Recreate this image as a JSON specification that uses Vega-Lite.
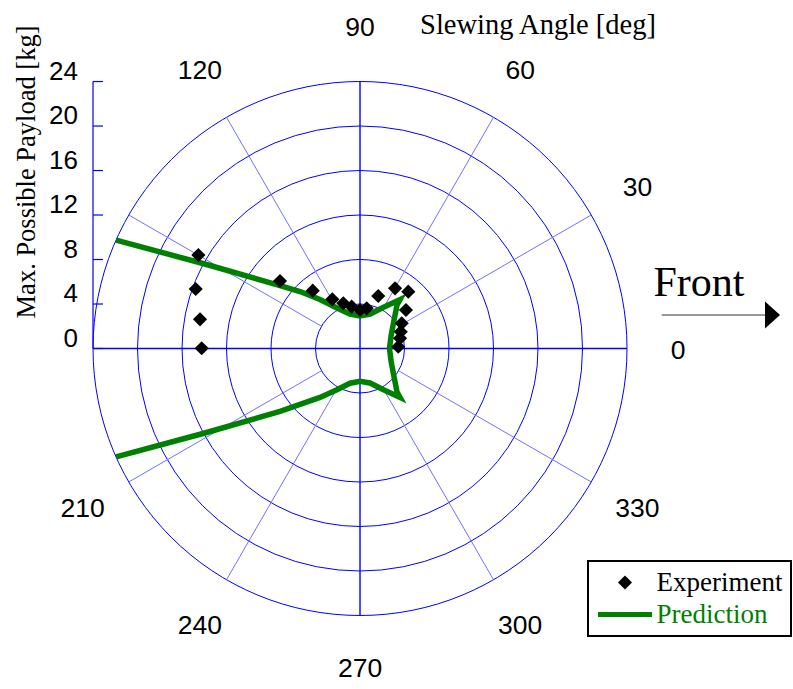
{
  "$schema": "https://vega.github.io/schema/vega-lite/v6.json",
  "width": 793,
  "height": 689,
  "autosize": {"type": "none"},
  "padding": 0,
  "background": "white",
  "config": {"view": {"stroke": null}, "legend": {"strokeWidth": 2}},
  "datasets": {
    "circles": [{"r": 4}, {"r": 8}, {"r": 12}, {"r": 16}, {"r": 20}, {"r": 24}],
    "mainAxes": [
      {"x": -24, "y": 0, "x2": 24, "y2": 0},
      {"x": 0, "y": -24, "x2": 0, "y2": 24}
    ],
    "spokes": [
      {"x": 3.464, "y": 2, "x2": 20.785, "y2": 12},
      {"x": 2, "y": 3.464, "x2": 12, "y2": 20.785},
      {"x": -2, "y": 3.464, "x2": -12, "y2": 20.785},
      {"x": -3.464, "y": 2, "x2": -20.785, "y2": 12},
      {"x": -3.464, "y": -2, "x2": -20.785, "y2": -12},
      {"x": -2, "y": -3.464, "x2": -12, "y2": -20.785},
      {"x": 2, "y": -3.464, "x2": 12, "y2": -20.785},
      {"x": 3.464, "y": -2, "x2": 20.785, "y2": -12}
    ],
    "angleLabels": [
      {"label": "0", "x": 28.6, "y": -0.2},
      {"label": "30", "x": 24.94, "y": 14.4},
      {"label": "60", "x": 14.4, "y": 24.94},
      {"label": "90", "x": 0, "y": 28.8},
      {"label": "120", "x": -14.4, "y": 24.94},
      {"label": "210", "x": -24.94, "y": -14.4},
      {"label": "240", "x": -14.4, "y": -24.94},
      {"label": "270", "x": 0, "y": -28.8},
      {"label": "300", "x": 14.4, "y": -24.94},
      {"label": "330", "x": 24.94, "y": -14.4}
    ],
    "ticks": [{"v": 0}, {"v": 4}, {"v": 8}, {"v": 12}, {"v": 16}, {"v": 20}, {"v": 24}],
    "experiment": [
      {"series": "Experiment", "x": -14.53, "y": 8.40},
      {"series": "Experiment", "x": -14.77, "y": 5.35},
      {"series": "Experiment", "x": -14.38, "y": 2.62},
      {"series": "Experiment", "x": -14.23, "y": 0.02},
      {"series": "Experiment", "x": -7.19, "y": 6.07},
      {"series": "Experiment", "x": -4.25, "y": 5.20},
      {"series": "Experiment", "x": -2.49, "y": 4.42},
      {"series": "Experiment", "x": -1.50, "y": 4.06},
      {"series": "Experiment", "x": -0.75, "y": 3.76},
      {"series": "Experiment", "x": 0.0, "y": 3.46},
      {"series": "Experiment", "x": 0.60, "y": 3.61},
      {"series": "Experiment", "x": 1.64, "y": 4.72},
      {"series": "Experiment", "x": 3.15, "y": 5.41},
      {"series": "Experiment", "x": 4.34, "y": 5.11},
      {"series": "Experiment", "x": 4.13, "y": 3.46},
      {"series": "Experiment", "x": 3.75, "y": 2.27},
      {"series": "Experiment", "x": 3.66, "y": 1.51},
      {"series": "Experiment", "x": 3.60, "y": 0.92},
      {"series": "Experiment", "x": 3.44, "y": 0.16}
    ],
    "prediction": [
      {"series": "Prediction", "i": 1, "x": -21.93, "y": 9.75},
      {"series": "Prediction", "i": 2, "x": -14.11, "y": 7.64},
      {"series": "Prediction", "i": 3, "x": -7.19, "y": 5.66},
      {"series": "Prediction", "i": 4, "x": -5.39, "y": 5.12},
      {"series": "Prediction", "i": 5, "x": -3.60, "y": 4.40},
      {"series": "Prediction", "i": 6, "x": -2.07, "y": 3.64},
      {"series": "Prediction", "i": 7, "x": -0.90, "y": 3.10},
      {"series": "Prediction", "i": 8, "x": 0.0, "y": 2.92},
      {"series": "Prediction", "i": 9, "x": 0.90, "y": 3.10},
      {"series": "Prediction", "i": 10, "x": 2.07, "y": 3.69},
      {"series": "Prediction", "i": 11, "x": 3.60, "y": 4.40},
      {"series": "Prediction", "i": 12, "x": 3.33, "y": 3.91},
      {"series": "Prediction", "i": 13, "x": 3.06, "y": 2.56},
      {"series": "Prediction", "i": 14, "x": 2.79, "y": 1.12},
      {"series": "Prediction", "i": 15, "x": 2.65, "y": 0.0},
      {"series": "Prediction", "i": 16, "x": 2.79, "y": -1.12},
      {"series": "Prediction", "i": 17, "x": 3.06, "y": -2.56},
      {"series": "Prediction", "i": 18, "x": 3.33, "y": -3.91},
      {"series": "Prediction", "i": 19, "x": 3.60, "y": -4.40},
      {"series": "Prediction", "i": 20, "x": 2.07, "y": -3.69},
      {"series": "Prediction", "i": 21, "x": 0.90, "y": -3.10},
      {"series": "Prediction", "i": 22, "x": 0.0, "y": -2.95},
      {"series": "Prediction", "i": 23, "x": -0.90, "y": -3.12},
      {"series": "Prediction", "i": 24, "x": -2.07, "y": -3.70},
      {"series": "Prediction", "i": 25, "x": -3.60, "y": -4.40},
      {"series": "Prediction", "i": 26, "x": -5.39, "y": -5.02},
      {"series": "Prediction", "i": 27, "x": -7.19, "y": -5.66},
      {"series": "Prediction", "i": 28, "x": -14.11, "y": -7.64},
      {"series": "Prediction", "i": 29, "x": -21.93, "y": -9.75}
    ],
    "annot": [{"text": "Front", "x": 30.47, "y": 4.72}],
    "arrow": [{"x": 27.12, "x2": 36.6, "y": 3.01}],
    "arrowHead": [{"x": 37.08, "y": 3.01}],
    "titles": [
      {"text": "Slewing Angle [deg]", "x": 16.0, "y": 29.08, "angle": 0, "size": 28.5},
      {"text": "Max. Possible Payload [kg]", "x": -29.93, "y": 15.87, "angle": 270, "size": 26.5}
    ]
  },
  "layer": [
    {
      "data": {"name": "circles"},
      "mark": {"type": "point", "shape": "circle", "filled": false, "color": "#0000ff", "strokeWidth": 1, "opacity": 1},
      "encoding": {
        "x": {"datum": 0, "type": "quantitative", "scale": {"domain": [-32.36, 38.92], "nice": false, "zero": false}, "axis": null},
        "y": {"datum": 0, "type": "quantitative", "scale": {"domain": [-30.61, 31.33], "nice": false, "zero": false}, "axis": null},
        "size": {"field": "r", "type": "quantitative", "scale": {"type": "pow", "exponent": 2, "domain": [0, 24], "range": [0, 285156]}, "legend": null}
      }
    },
    {
      "data": {"name": "spokes"},
      "mark": {"type": "rule", "color": "#7070ff", "strokeWidth": 1},
      "encoding": {
        "x": {"field": "x", "type": "quantitative", "scale": {"domain": [-32.36, 38.92], "nice": false, "zero": false}, "axis": null},
        "y": {"field": "y", "type": "quantitative", "scale": {"domain": [-30.61, 31.33], "nice": false, "zero": false}, "axis": null},
        "x2": {"field": "x2"},
        "y2": {"field": "y2"}
      }
    },
    {
      "data": {"name": "mainAxes"},
      "mark": {"type": "rule", "color": "#0000ff", "strokeWidth": 1.4},
      "encoding": {
        "x": {"field": "x", "type": "quantitative", "scale": {"domain": [-32.36, 38.92], "nice": false, "zero": false}, "axis": null},
        "y": {"field": "y", "type": "quantitative", "scale": {"domain": [-30.61, 31.33], "nice": false, "zero": false}, "axis": null},
        "x2": {"field": "x2"},
        "y2": {"field": "y2"}
      }
    },
    {
      "data": {"name": "ticks"},
      "mark": {"type": "rule", "color": "#0000ff", "strokeWidth": 1.2},
      "encoding": {
        "x": {"datum": -24, "type": "quantitative", "scale": {"domain": [-32.36, 38.92], "nice": false, "zero": false}, "axis": null},
        "x2": {"datum": -23.1},
        "y": {"field": "v", "type": "quantitative", "scale": {"domain": [-30.61, 31.33], "nice": false, "zero": false}, "axis": null}
      }
    },
    {
      "data": {"values": [{"a": 0, "b": 24}]},
      "mark": {"type": "rule", "color": "#0000ff", "strokeWidth": 1.2},
      "encoding": {
        "x": {"datum": -24, "type": "quantitative", "scale": {"domain": [-32.36, 38.92], "nice": false, "zero": false}, "axis": null},
        "y": {"field": "a", "type": "quantitative", "scale": {"domain": [-30.61, 31.33], "nice": false, "zero": false}, "axis": null},
        "y2": {"field": "b"}
      }
    },
    {
      "data": {"name": "ticks"},
      "mark": {"type": "text", "align": "right", "baseline": "middle", "dy": -10, "font": "Liberation Sans", "fontSize": 26, "color": "black"},
      "encoding": {
        "x": {"datum": -25.35, "type": "quantitative", "scale": {"domain": [-32.36, 38.92], "nice": false, "zero": false}, "axis": null},
        "y": {"field": "v", "type": "quantitative", "scale": {"domain": [-30.61, 31.33], "nice": false, "zero": false}, "axis": null},
        "text": {"field": "v", "type": "quantitative"}
      }
    },
    {
      "data": {"name": "angleLabels"},
      "mark": {"type": "text", "align": "center", "baseline": "middle", "font": "Liberation Sans", "fontSize": 26.5, "color": "black"},
      "encoding": {
        "x": {"field": "x", "type": "quantitative", "scale": {"domain": [-32.36, 38.92], "nice": false, "zero": false}, "axis": null},
        "y": {"field": "y", "type": "quantitative", "scale": {"domain": [-30.61, 31.33], "nice": false, "zero": false}, "axis": null},
        "text": {"field": "label"}
      }
    },
    {
      "data": {"name": "titles"},
      "mark": {"type": "text", "align": "center", "baseline": "middle", "font": "Liberation Serif", "color": "black"},
      "encoding": {
        "x": {"field": "x", "type": "quantitative", "scale": {"domain": [-32.36, 38.92], "nice": false, "zero": false}, "axis": null},
        "y": {"field": "y", "type": "quantitative", "scale": {"domain": [-30.61, 31.33], "nice": false, "zero": false}, "axis": null},
        "text": {"field": "text"},
        "angle": {"field": "angle", "type": "quantitative", "scale": null},
        "size": {"field": "size", "type": "quantitative", "scale": null}
      }
    },
    {
      "data": {"name": "annot"},
      "mark": {"type": "text", "align": "center", "baseline": "alphabetic", "font": "Liberation Serif", "fontSize": 42, "color": "black"},
      "encoding": {
        "x": {"field": "x", "type": "quantitative", "scale": {"domain": [-32.36, 38.92], "nice": false, "zero": false}, "axis": null},
        "y": {"field": "y", "type": "quantitative", "scale": {"domain": [-30.61, 31.33], "nice": false, "zero": false}, "axis": null},
        "text": {"field": "text"}
      }
    },
    {
      "data": {"name": "arrow"},
      "mark": {"type": "rule", "color": "#333333", "strokeWidth": 1},
      "encoding": {
        "x": {"field": "x", "type": "quantitative", "scale": {"domain": [-32.36, 38.92], "nice": false, "zero": false}, "axis": null},
        "x2": {"field": "x2"},
        "y": {"field": "y", "type": "quantitative", "scale": {"domain": [-30.61, 31.33], "nice": false, "zero": false}, "axis": null}
      }
    },
    {
      "data": {"name": "arrowHead"},
      "mark": {"type": "point", "shape": "M-1,-1.8L1,0L-1,1.8Z", "filled": true, "color": "black", "size": 225, "opacity": 1},
      "encoding": {
        "x": {"field": "x", "type": "quantitative", "scale": {"domain": [-32.36, 38.92], "nice": false, "zero": false}, "axis": null},
        "y": {"field": "y", "type": "quantitative", "scale": {"domain": [-30.61, 31.33], "nice": false, "zero": false}, "axis": null}
      }
    },
    {
      "data": {"name": "prediction"},
      "mark": {"type": "line", "strokeWidth": 5.5, "strokeJoin": "miter"},
      "encoding": {
        "x": {"field": "x", "type": "quantitative", "scale": {"domain": [-32.36, 38.92], "nice": false, "zero": false}, "axis": null},
        "y": {"field": "y", "type": "quantitative", "scale": {"domain": [-30.61, 31.33], "nice": false, "zero": false}, "axis": null},
        "order": {"field": "i", "type": "quantitative"},
        "color": {
          "field": "series", "type": "nominal",
          "scale": {"domain": ["Experiment", "Prediction"], "range": ["black", "#008000"]},
          "legend": {
            "title": null, "orient": "none", "legendX": 588, "legendY": 561,
            "fillColor": "white", "strokeColor": "black", "padding": 8, "cornerRadius": 0,
            "labelFont": "Liberation Serif", "labelFontSize": 27,
            "labelColor": {"expr": "datum.value === 'Prediction' ? '#008000' : 'black'"},
            "symbolSize": 400, "rowPadding": 4, "labelOffset": 18, "symbolOffset": 15.5,
            "symbolType": {"expr": "datum.value === 'Prediction' ? 'M-2.7,0L2.7,0' : 'M0,-0.7L0.7,0L0,0.7L-0.7,0Z'"},
            "symbolStrokeWidth": {"expr": "datum.value === 'Prediction' ? 5 : 0"},
            "symbolFillColor": {"expr": "datum.value === 'Prediction' ? 'transparent' : 'black'"},
            "symbolStrokeColor": {"expr": "datum.value === 'Prediction' ? '#008000' : 'black'"},
            "symbolOpacity": 1
          }
        }
      }
    },
    {
      "data": {"name": "experiment"},
      "mark": {"type": "point", "shape": "diamond", "filled": true, "size": 200, "opacity": 1},
      "encoding": {
        "x": {"field": "x", "type": "quantitative", "scale": {"domain": [-32.36, 38.92], "nice": false, "zero": false}, "axis": null},
        "y": {"field": "y", "type": "quantitative", "scale": {"domain": [-30.61, 31.33], "nice": false, "zero": false}, "axis": null},
        "color": {"field": "series", "type": "nominal"}
      }
    }
  ]
}
